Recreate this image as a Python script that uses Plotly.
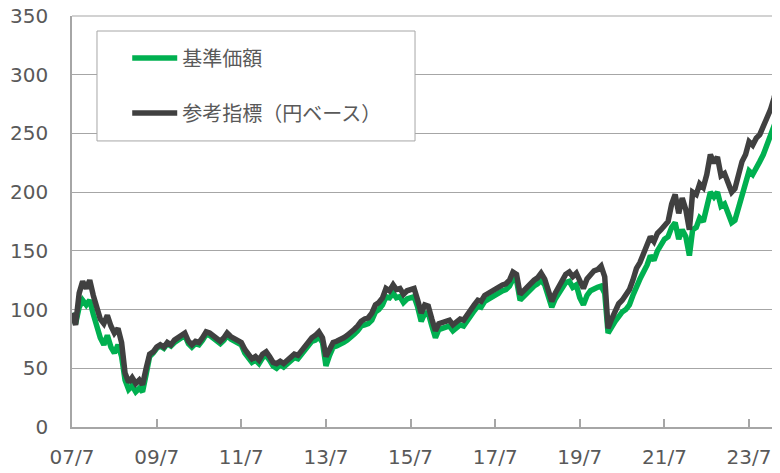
import pandas as pd
import plotly.graph_objects as go

# Monthly observations, 2007-07 .. 2024-03
start_month = "2007-07-01"

reference_index = [
    97, 87, 114, 124, 118, 125, 112, 100, 92, 88, 95, 86, 80, 84, 72, 46, 38, 42, 37, 40,
    36, 50, 62, 64, 68, 70, 68, 72, 70, 74, 76, 78, 80, 73, 70, 73, 72, 76, 81, 80,
    78, 76, 73, 76, 80, 77, 75, 74, 72, 66, 62, 58, 60, 57, 62, 64, 60, 55, 54, 56,
    54, 57, 60, 62, 61, 65, 70, 74, 76, 78, 81, 76, 60, 66, 72, 73, 74, 76, 78, 80,
    83, 86, 90, 92, 93, 97, 104, 106, 110, 118, 116, 121, 117, 118, 113, 116, 117, 118, 108, 97,
    104, 103, 92, 82, 88, 89, 90, 91, 87, 90, 92, 91, 96, 101, 104, 108, 107, 112, 114, 116,
    118, 119, 121, 122, 125, 132, 130, 113, 116, 120, 122, 125, 127, 131, 126, 116, 107, 114, 120, 124,
    130, 132, 128, 131, 124, 118, 126, 130, 133, 134, 137, 128, 84, 92, 100, 105, 108, 112, 117, 125,
    135, 140, 148, 155, 162, 158, 165, 168, 172, 175, 190, 198, 182, 195, 185, 168, 200, 198, 207, 204,
    215, 232, 225, 230, 214, 216, 208, 200, 203, 214, 226, 232, 243, 240, 246, 249, 256, 262, 270, 280,
    292,
]

nav = [
    97, 88, 102, 108, 104, 108, 96, 84, 76, 70, 78, 68, 63, 70, 60, 40, 32, 35, 30, 33,
    30, 45, 60, 63, 67, 69, 67, 71, 69, 72, 74, 76, 78, 71, 68, 71, 70, 74, 79, 78,
    76, 74, 71, 74, 78, 75, 73, 72, 70, 63, 59, 55, 57, 54, 59, 61, 57, 52, 50, 53,
    51, 54, 57, 59, 58, 62, 67, 71, 73, 74, 77, 72, 52, 61, 68, 69, 70, 72, 74, 76,
    79, 82, 86, 87, 88, 91, 98, 100, 104, 111, 110, 114, 110, 111, 106, 109, 110, 111, 102, 90,
    97, 97, 86, 76, 83, 84, 85, 86, 82, 85, 87, 86, 91, 96, 99, 103, 102, 107, 109, 111,
    113, 114, 116, 117, 120, 126, 125, 108, 111, 115, 117, 120, 122, 125, 121, 111, 102, 109, 114, 118,
    123, 124, 119, 121, 110, 104, 112, 116, 118, 119, 120, 114, 80, 86, 90, 94, 98, 100, 104, 112,
    120, 126, 132, 138, 146, 142, 150, 155, 160, 162, 170, 174, 160, 168, 162, 146, 168, 170, 178, 175,
    188, 200, 196, 200, 188, 190, 182, 174, 176, 186, 198, 205, 218, 215, 222, 226, 232, 240, 248, 255,
    264,
]

series_names = ["基準価額", "参考指標（円ベース）"]
series_colors = ["#00B050", "#404040"]

tick_dates = ["2007-07-01", "2009-07-01", "2011-07-01", "2013-07-01", "2015-07-01",
              "2017-07-01", "2019-07-01", "2021-07-01", "2023-07-01"]
tick_labels = ["07/7", "09/7", "11/7", "13/7", "15/7", "17/7", "19/7", "21/7", "23/7"]
y_ticks = [0, 50, 100, 150, 200, 250, 300, 350]

dates = pd.date_range(start=start_month, periods=len(nav), freq="MS")

fig = go.Figure()
for name, vals, col in zip(series_names, [nav, reference_index], series_colors):
    fig.add_trace(go.Scatter(
        x=dates, y=vals, mode="lines", name=name, legendgroup=name,
        line=dict(color=col, width=5.5),
    ))

grid = "#a6a6a6"
txt = "#595959"

# page body has an 8px margin, so the figure is sized/offset to compensate
fig.update_layout(
    width=772, height=465,
    margin=dict(l=64, r=0, t=8, b=46, autoexpand=False),
    paper_bgcolor="white", plot_bgcolor="white",
    font=dict(family="DejaVu Sans, Noto Sans CJK JP", size=20, color=txt),
    showlegend=True,
    legend=dict(
        x=0.078, y=0.945, xanchor="left", yanchor="top",
        bgcolor="rgba(0,0,0,0)", borderwidth=0,
        font=dict(family="Noto Sans CJK JP, DejaVu Sans", size=20, color=txt),
        tracegroupgap=26, itemwidth=45, traceorder="grouped",
    ),
    shapes=[
        dict(type="line", xref="paper", yref="paper", x0=0, x1=1, y0=1, y1=1,
             line=dict(color=grid, width=1.2), layer="above"),
        dict(type="rect", xref="paper", yref="paper",
             x0=0.0353, x1=0.4845, y0=0.696, y1=0.9635,
             fillcolor="white", line=dict(color=grid, width=1), layer="above"),
    ],
)

fig.update_xaxes(
    range=["2007-07-01", "2024-03-24"],
    tickvals=tick_dates, ticktext=tick_labels,
    showgrid=False, showline=True, linecolor=grid, linewidth=1.5,
    ticks="inside", ticklen=8, tickcolor=grid, tickwidth=1.5,
    ticklabelstandoff=11, ticklabeloverflow="allow", automargin=False,
    tickfont=dict(size=20, color=txt),
)
fig.update_yaxes(
    range=[0, 350], tickvals=y_ticks,
    showgrid=True, gridcolor=grid, gridwidth=1.2,
    showline=True, linecolor=grid, linewidth=1.5,
    ticks="", ticklabelstandoff=18, ticklabeloverflow="allow", automargin=False,
    tickfont=dict(size=20, color=txt),
    zeroline=False,
)

fig.write_html("out.html")
